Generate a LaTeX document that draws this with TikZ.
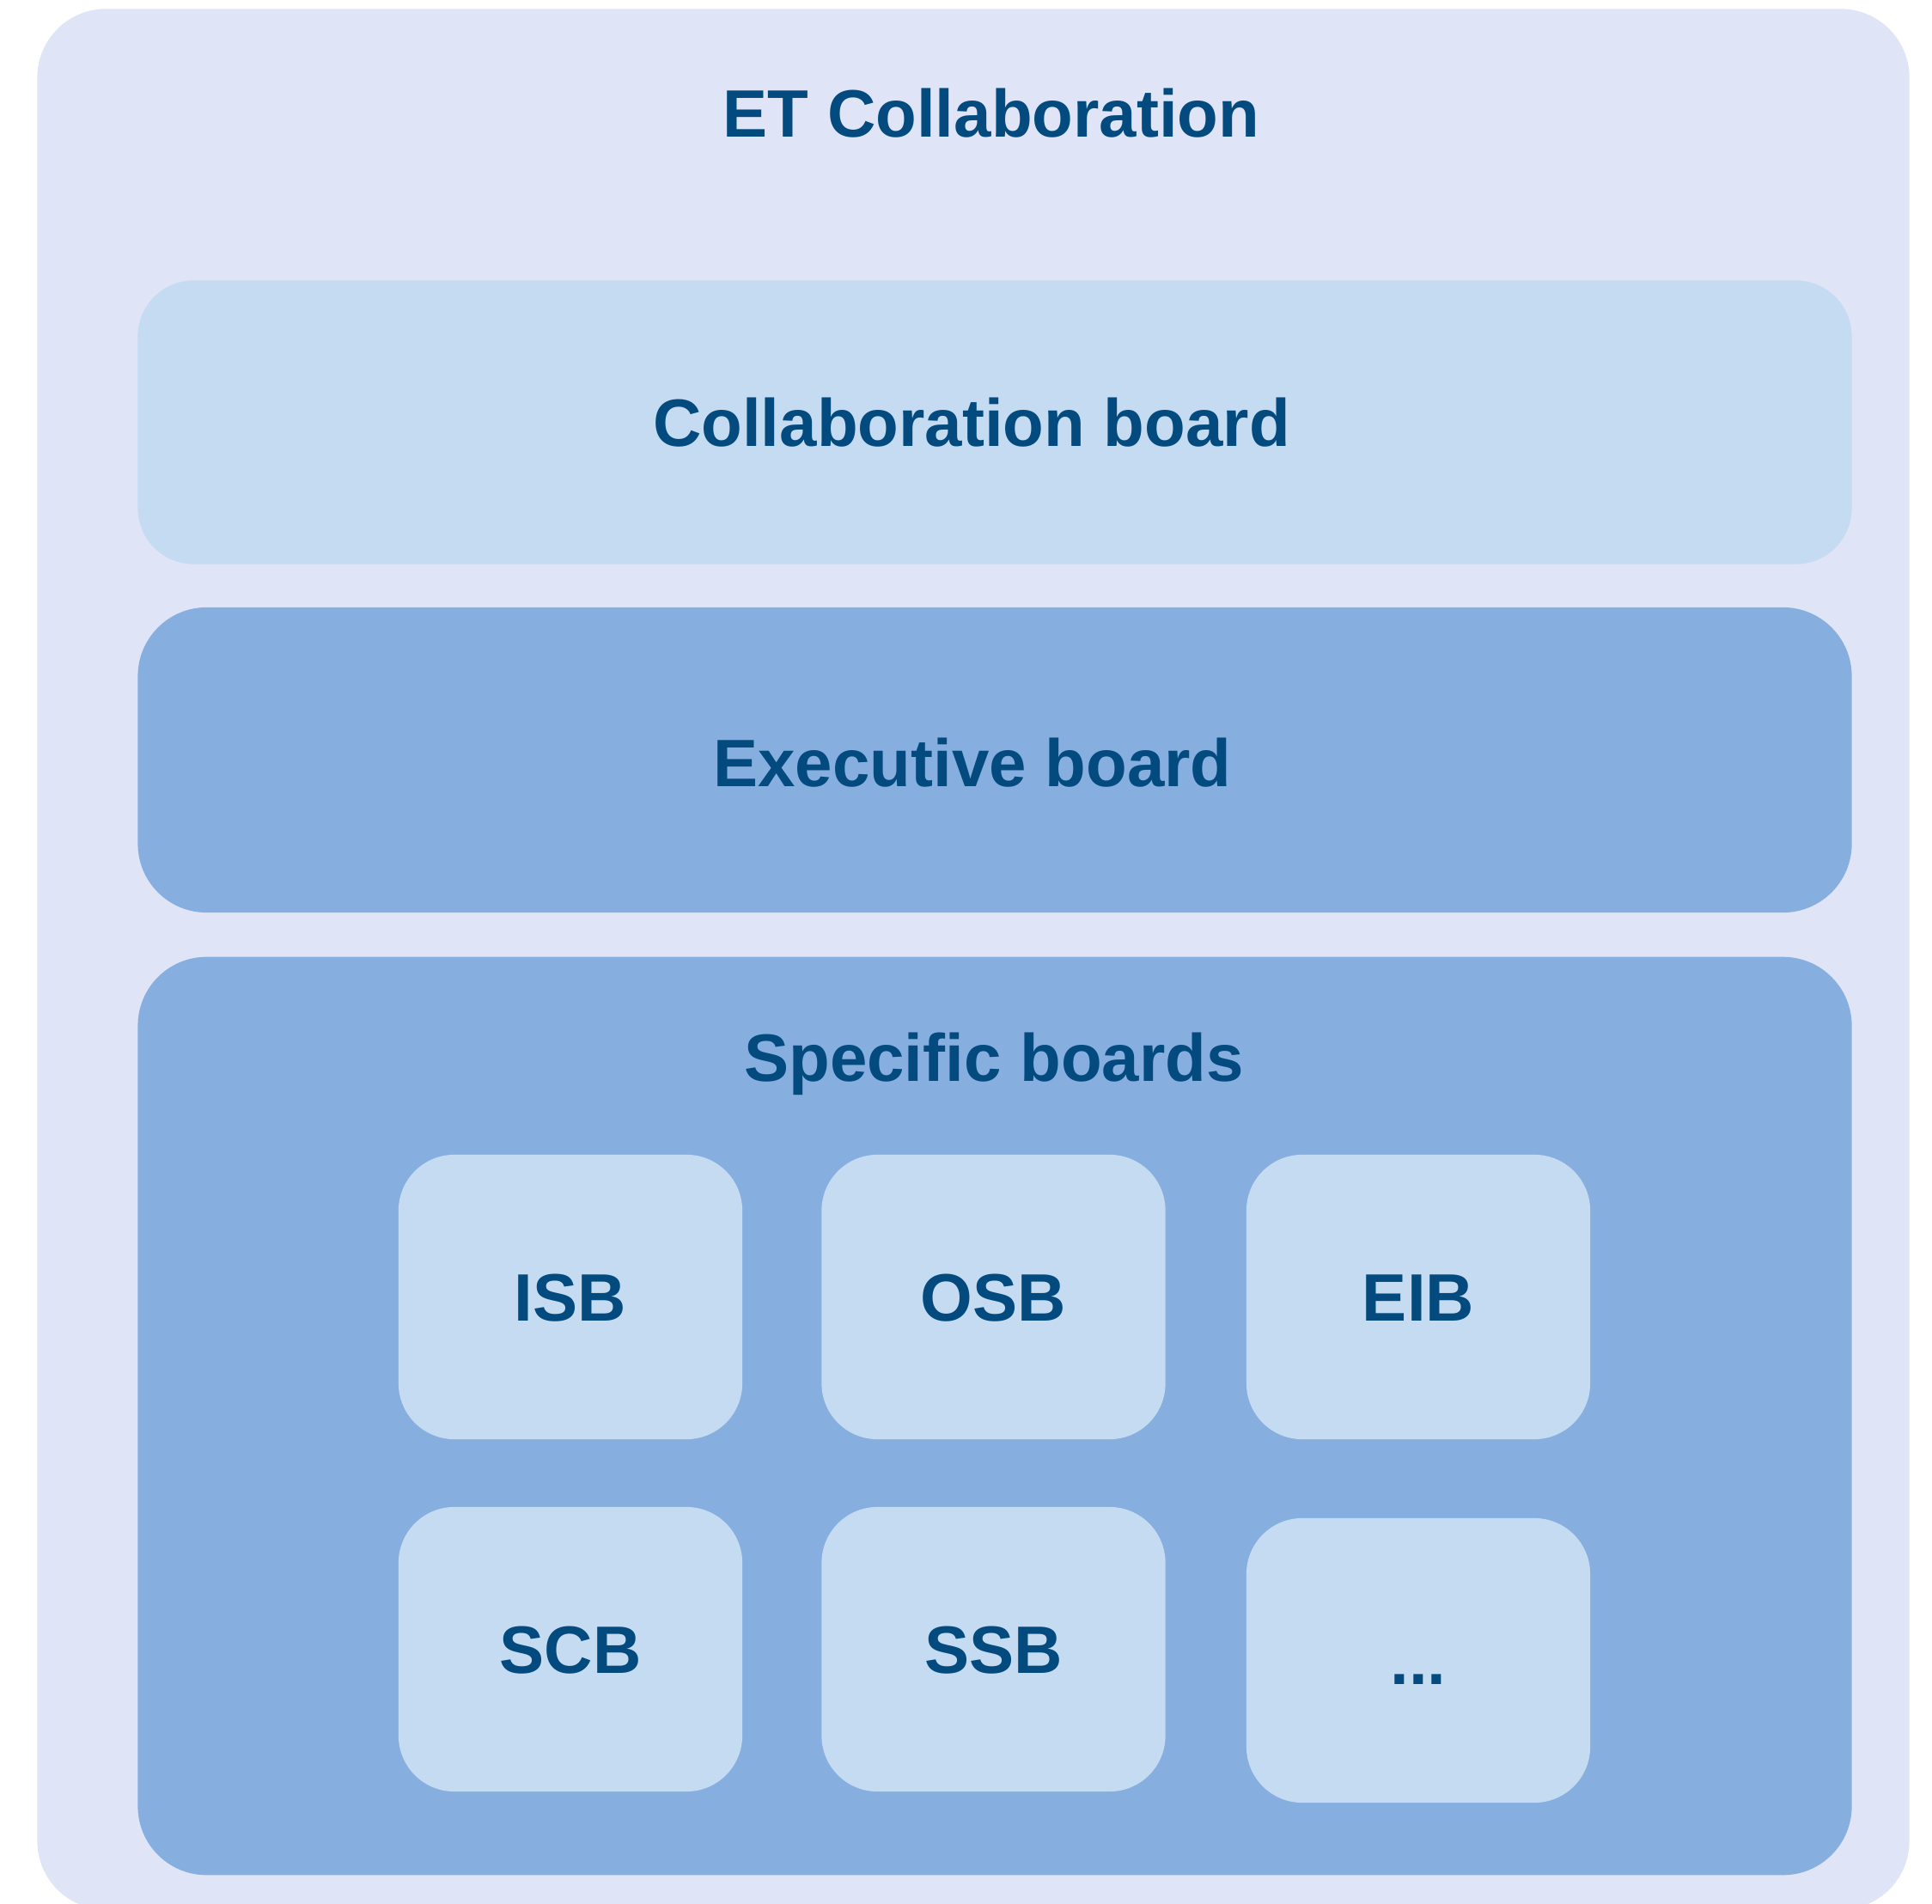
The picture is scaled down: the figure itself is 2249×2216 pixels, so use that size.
\documentclass[tikz,border=0pt]{standalone}
\usepackage{fontspec}
\setmainfont{Liberation Sans}
\definecolor{outerbg}{HTML}{DFE5F6}
\definecolor{lightbox}{HTML}{C5DBF1}
\definecolor{midbox}{HTML}{86AFE0}
\definecolor{txtblue}{HTML}{034B7E}
\begin{document}
\begin{tikzpicture}[x=0.01cm,y=-0.01cm,
  panel/.style={rectangle, inner sep=0pt, outer sep=0pt, draw=none},
  smallbox/.style={panel, fill=lightbox, rounded corners=0.65cm,
     minimum width=4.0cm, minimum height=3.31cm,
     font=\fontsize{22.2pt}{26pt}\selectfont\bfseries, text=txtblue,
     text height=0.56cm, text depth=0cm},
  title/.style={anchor=base, inner sep=0pt,
     font=\fontsize{22.2pt}{26pt}\selectfont\bfseries, text=txtblue}]
\useasboundingbox (0,0) rectangle (2249,2216);
\clip (0,0) rectangle (2249,2216);
\fill[white] (0,0) rectangle (2249,2216);
% outer
\node[panel, fill=outerbg, rounded corners=0.8cm, minimum width=21.78cm, minimum height=22.11cm] (outer) at (1133,1116.5) {};
% boards
\node[panel, fill=lightbox, rounded corners=0.65cm, minimum width=19.94cm, minimum height=3.30cm] (collab) at (1158,491.5) {};
\node[panel, fill=midbox, rounded corners=0.8cm, minimum width=19.94cm, minimum height=3.55cm] (exec) at (1158,884.5) {};
\node[panel, fill=midbox, rounded corners=0.8cm, minimum width=19.94cm, minimum height=10.68cm] (specific) at (1158,1648) {};
% titles
\node[title] (tET) at (1154,160) {ET Collaboration};
\node[title] (tCollab) at (1131,520) {Collaboration board};
\node[title] (tExec) at (1132,915) {Executive board};
\node[title] (tSpec) at (1157,1258) {Specific boards};
% specific boards
\node[smallbox] (isb) at (664,1509.5) {ISB};
\node[smallbox] (osb) at (1156.5,1509.5) {OSB};
\node[smallbox] (eib) at (1651,1509.5) {EIB};
\node[smallbox] (scb) at (664,1919.5) {SCB};
\node[smallbox] (ssb) at (1156.5,1919.5) {SSB};
\node[smallbox] (more) at (1651,1932.5) {...};
\end{tikzpicture}
\end{document}
